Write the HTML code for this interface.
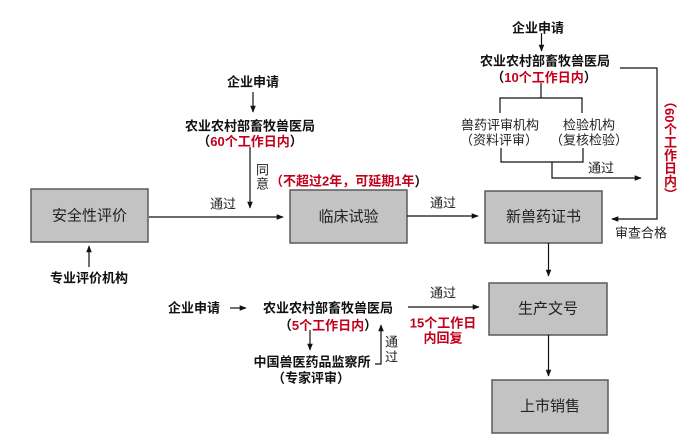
<!DOCTYPE html>
<html><head><meta charset="utf-8"><style>
html,body{margin:0;padding:0;background:#fff;}
#w{position:relative;width:700px;height:443px;overflow:hidden;}
svg{position:absolute;left:0;top:0;}
text{font-family:"Liberation Sans","Noto Sans CJK SC",sans-serif;}
.b{font-weight:700;font-size:13px;fill:#111;}
.n{font-size:13px;fill:#222;}
.r{fill:#c3001a;}
.box{fill:#c3c3c3;stroke:#5a5a5a;stroke-width:1.5;}
.bt{font-size:15px;fill:#222;}
.l{stroke:#111;stroke-width:1.2;fill:none;}
#v{position:absolute;left:661px;top:95px;writing-mode:vertical-rl;font-family:"Liberation Sans","Noto Sans CJK SC",sans-serif;font-weight:700;font-size:13px;color:#c3001a;line-height:16px;letter-spacing:0px;}
</style></head><body><div id="w">
<svg width="700" height="443" viewBox="0 0 700 443">
<defs>
<marker id="a" viewBox="0 0 10 10" refX="9" refY="5" markerWidth="7" markerHeight="7" orient="auto" markerUnits="userSpaceOnUse"><path d="M0,1 L10,5 L0,9 z" fill="#111"/></marker>
</defs>
<!-- boxes -->
<rect class="box" x="31" y="189" width="117" height="53"/>
<text class="bt" x="89.5" y="216" text-anchor="middle" dominant-baseline="central">安全性评价</text>
<rect class="box" x="290" y="190" width="117" height="53"/>
<text class="bt" x="348.5" y="217" text-anchor="middle" dominant-baseline="central">临床试验</text>
<rect class="box" x="485" y="191" width="117" height="52"/>
<text class="bt" x="543.5" y="217" text-anchor="middle" dominant-baseline="central">新兽药证书</text>
<rect class="box" x="489" y="283" width="118" height="52"/>
<text class="bt" x="548" y="309" text-anchor="middle" dominant-baseline="central">生产文号</text>
<rect class="box" x="492" y="380" width="116" height="53"/>
<text class="bt" x="550" y="406.5" text-anchor="middle" dominant-baseline="central">上市销售</text>

<!-- left middle -->
<text class="b" x="253" y="82" text-anchor="middle" dominant-baseline="central">企业申请</text>
<line class="l" x1="253" y1="92" x2="253" y2="112" marker-end="url(#a)"/>
<text class="b" x="250" y="126" text-anchor="middle" dominant-baseline="central">农业农村部畜牧兽医局</text>
<text class="b" x="250" y="141" text-anchor="middle" dominant-baseline="central">（<tspan class="r">60个工作日内</tspan>）</text>
<line class="l" x1="250" y1="147" x2="250" y2="208" marker-end="url(#a)"/>
<text class="n" x="256" y="170" dominant-baseline="central">同</text>
<text class="n" x="256" y="184" dominant-baseline="central">意</text>
<text class="b r" x="270" y="181" dominant-baseline="central">（不超过2年，可延期1年<tspan style="fill:#111">）</tspan></text>
<text class="n" x="223" y="204" text-anchor="middle" dominant-baseline="central">通过</text>
<line class="l" x1="149" y1="217" x2="283" y2="217" marker-end="url(#a)"/>
<line class="l" x1="89" y1="267" x2="89" y2="246" marker-end="url(#a)"/>
<text class="b" x="89" y="278" text-anchor="middle" dominant-baseline="central">专业评价机构</text>

<line class="l" x1="407" y1="216" x2="478" y2="216" marker-end="url(#a)"/>
<text class="n" x="443" y="203" text-anchor="middle" dominant-baseline="central">通过</text>

<!-- top right -->
<text class="b" x="538" y="28" text-anchor="middle" dominant-baseline="central">企业申请</text>
<line class="l" x1="541.5" y1="33" x2="541.5" y2="51" marker-end="url(#a)"/>
<text class="b" x="545" y="61" text-anchor="middle" dominant-baseline="central">农业农村部畜牧兽医局</text>
<text class="b" x="544" y="77" text-anchor="middle" dominant-baseline="central">（<tspan class="r">10个工作日内</tspan>）</text>
<polyline class="l" points="541,83 541,98"/>
<polyline class="l" points="500,113 500,98 582,98 582,113"/>
<text class="n" x="500" y="125" text-anchor="middle" dominant-baseline="central">兽药评审机构</text>
<text class="n" x="499" y="140" text-anchor="middle" dominant-baseline="central">（资料评审）</text>
<text class="n" x="589" y="125" text-anchor="middle" dominant-baseline="central">检验机构</text>
<text class="n" x="589" y="140" text-anchor="middle" dominant-baseline="central">（复核检验）</text>
<polyline class="l" points="501,148 501,162 583,162 583,148"/>
<polyline class="l" points="552,162 552,178 641,178" marker-end="url(#a)"/>
<text class="n" x="601" y="168" text-anchor="middle" dominant-baseline="central">通过</text>
<polyline class="l" points="620,68 657,68 657,219 612,219" marker-end="url(#a)"/>
<text class="n" x="641" y="233" text-anchor="middle" dominant-baseline="central">审查合格</text>

<line class="l" x1="548.5" y1="243" x2="548.5" y2="276" marker-end="url(#a)"/>
<line class="l" x1="548.5" y1="335" x2="548.5" y2="376" marker-end="url(#a)"/>

<!-- bottom left -->
<text class="b" x="194" y="308" text-anchor="middle" dominant-baseline="central">企业申请</text>
<line class="l" x1="230" y1="308" x2="246" y2="308" marker-end="url(#a)"/>
<text class="b" x="328" y="308" text-anchor="middle" dominant-baseline="central">农业农村部畜牧兽医局</text>
<text class="b" x="328" y="325" text-anchor="middle" dominant-baseline="central">（<tspan class="r">5个工作日内</tspan>）</text>
<line class="l" x1="310" y1="330" x2="310" y2="350" marker-end="url(#a)"/>
<text class="b" x="312" y="362" text-anchor="middle" dominant-baseline="central">中国兽医药品监察所</text>
<text class="b" x="311" y="378" text-anchor="middle" dominant-baseline="central">（专家评审）</text>
<polyline class="l" points="375,364 381,364 381,325" marker-end="url(#a)"/>
<text class="n" x="385" y="342" dominant-baseline="central">通</text>
<text class="n" x="385" y="357" dominant-baseline="central">过</text>
<line class="l" x1="408" y1="307" x2="479" y2="307" marker-end="url(#a)"/>
<text class="n" x="443" y="293" text-anchor="middle" dominant-baseline="central">通过</text>
<text class="b r" x="443" y="323" text-anchor="middle" dominant-baseline="central">15个工作日</text>
<text class="b r" x="443" y="338" text-anchor="middle" dominant-baseline="central">内回复</text>
</svg>
<div id="v">（60个工作日内）</div>
</div></body></html>
